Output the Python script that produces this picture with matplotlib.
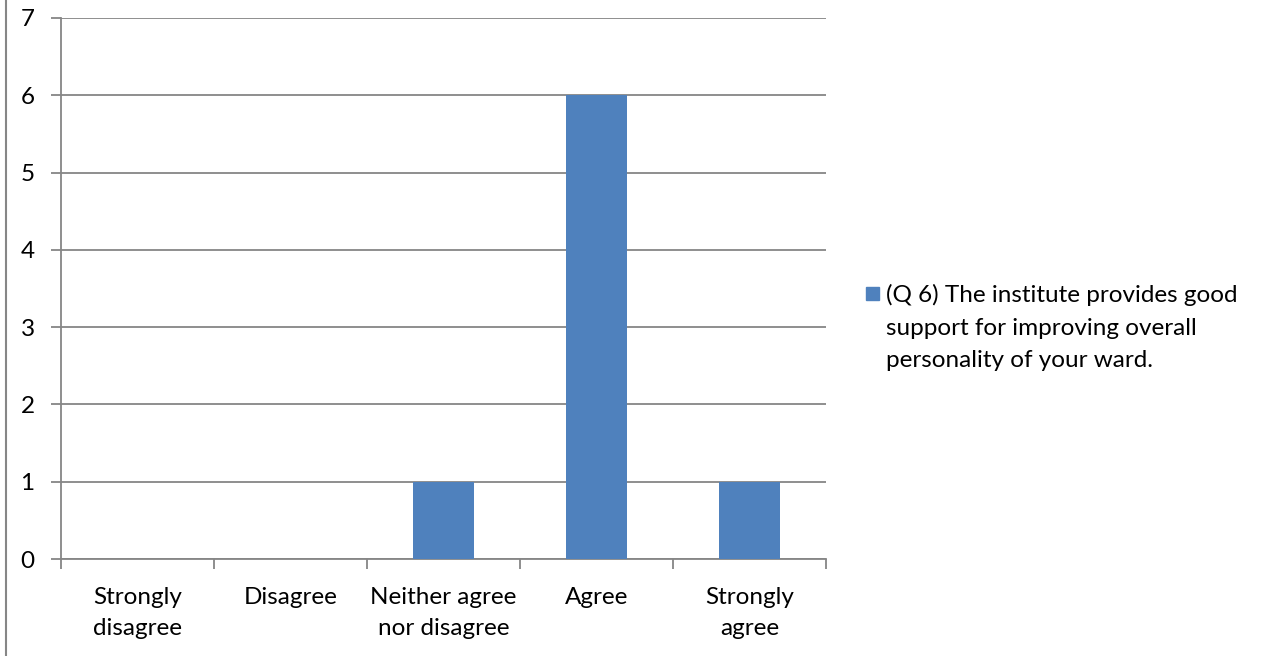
import matplotlib.pyplot as plt
import numpy as np
from matplotlib.lines import Line2D
from matplotlib.patches import Rectangle

plt.rcParams['font.family'] = ['Lato', 'DejaVu Sans']

# data
categories = ['Strongly\ndisagree', 'Disagree', 'Neither agree\nnor disagree', 'Agree', 'Strongly\nagree']
counts = [0, 0, 1, 6, 1]
series_label = '(Q 6) The institute provides good\nsupport for improving overall\npersonality of your ward.'
bar_color = '#4F81BD'
grid_color = '#868686'

W, H = 1261, 656
fig = plt.figure(figsize=(W / 100, H / 100), dpi=100)
ax = fig.add_axes([61 / W, 97 / H, 765 / W, 541 / H])

x = np.arange(len(categories))
ax.bar(x, counts, width=0.4, color=bar_color, zorder=3)

ax.set_xlim(-0.5, len(categories) - 0.5)
ax.set_ylim(0, 7)
ax.set_yticks(range(0, 8))
ax.grid(axis='y', color=grid_color, linewidth=1.3, zorder=0)

# category labels centred, ticks on boundaries
ax.set_xticks(x)
ax.set_xticklabels(categories, fontsize=17.5, linespacing=1.62)
ax.tick_params(axis='x', length=0, pad=20)
ax.set_xticks(np.arange(-0.5, len(categories)), minor=True)
ax.tick_params(axis='x', which='minor', length=7, width=1.3, color=grid_color, direction='out')
ax.tick_params(axis='y', length=7, width=1.3, color=grid_color, labelsize=17.5, pad=12)

for s in ['top', 'right']:
    ax.spines[s].set_visible(False)
for s in ['left', 'bottom']:
    ax.spines[s].set_color(grid_color)
    ax.spines[s].set_linewidth(1.3)

# legend (drawn by hand: square + wrapped text)
fig.add_artist(Rectangle((866 / W, 1 - 300 / H), 13 / W, 13 / H, color=bar_color,
                         transform=fig.transFigure))
fig.text(886 / W, 1 - 284 / H, series_label, fontsize=17.5, va='top', ha='left',
         linespacing=1.68)

# left border of the chart frame
fig.add_artist(Line2D([6 / W, 6 / W], [0, 1], color=grid_color, linewidth=1.5))

fig.savefig('out.png', dpi=100)
